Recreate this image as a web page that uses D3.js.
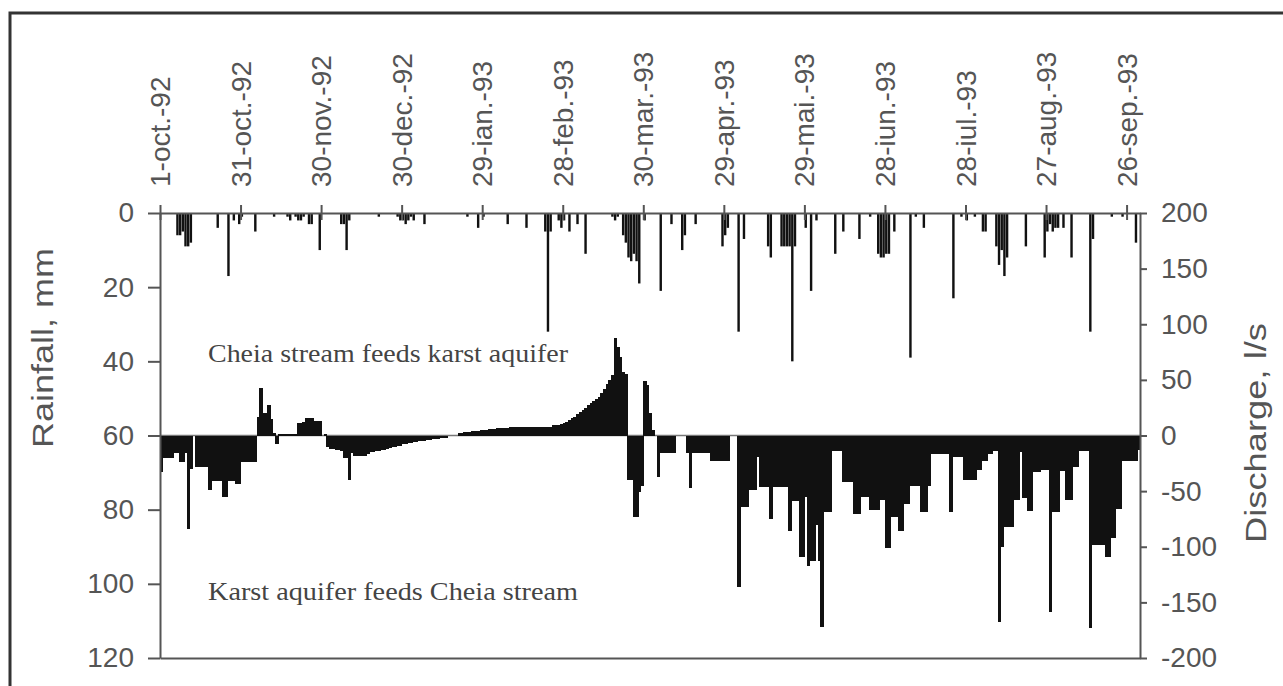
<!DOCTYPE html>
<html lang="en">
<head>
<meta charset="UTF-8">
<title>Rainfall and discharge, Cheia</title>
<script src="https://d3js.org/d3.v7.min.js"></script>
<style>
  body { margin: 0; background: #fff; font-family: "Liberation Sans", Arial, sans-serif; }
  svg { display: block; }
  .axis path, .axis line { stroke: #555; stroke-width: 2; }
  .axis text { fill: #555; font-size: 28px; font-family: "Liberation Sans", Arial, sans-serif; }
  .note { fill: #444; font-family: "Liberation Serif", "Times New Roman", serif; font-size: 25px; }
  .title { fill: #555; font-size: 29px; }
</style>
</head>
<body>
<svg id="chart" width="1283" height="686"></svg>
<script>
// top axis labels, one every 30 days from 1-oct-92
const dateLabels = ["1-oct.-92", "31-oct.-92", "30-nov.-92", "30-dec.-92", "29-ian.-93", "28-feb.-93",
  "30-mar.-93", "29-apr.-93", "29-mai.-93", "28-iun.-93", "28-iul.-93", "27-aug.-93", "26-sep.-93"];
const labelDays = [0, 30, 60, 90, 120, 150, 180, 210, 240, 270, 300, 330, 360];

// daily rainfall, only days with rain (day index from 1-oct-92, mm)
const rainDay = [6, 7, 8, 9, 10, 11, 21, 25, 27, 29, 30, 35, 42, 47, 48, 50, 51, 52, 53, 55, 56, 59,
  67, 68, 69, 70, 81, 88, 89, 90, 91, 92, 93, 94, 98, 114, 118, 120, 129, 136, 143, 144, 145,
  148, 149, 150, 152, 155, 158, 168, 169, 170, 172, 173, 174, 175, 176, 177, 178, 180, 186, 190,
  194, 195, 199, 209, 210, 211, 215, 217, 226, 227, 231, 232, 233, 234, 235, 236, 240, 242, 244,
  251, 254, 260, 264, 267, 268, 269, 270, 271, 273, 279, 281, 284, 295, 298, 300, 303, 306, 307,
  311, 312, 313, 314, 315, 322, 329, 330, 331, 332, 333, 334, 336, 339, 346, 347, 354, 358, 363];
const rainMm = [6, 6, 5, 9, 9, 8, 4, 17, 2, 3, 1, 5, 1, 1, 2, 1, 2, 2, 1, 3, 3, 10,
  3, 3, 10, 2, 1, 1, 2, 2, 3, 2, 1, 2, 3, 1, 4, 1, 3, 4, 5, 32, 5,
  2, 4, 2, 5, 3, 11, 1, 2, 1, 6, 8, 12, 13, 11, 13, 19, 2, 21, 3,
  10, 6, 3, 9, 6, 4, 32, 7, 9, 12, 9, 9, 9, 9, 40, 9, 4, 21, 2,
  11, 5, 7, 1, 11, 12, 12, 11, 11, 5, 39, 1, 4, 23, 1, 2, 1, 5, 5,
  9, 14, 10, 17, 12, 9, 12, 5, 3, 5, 4, 4, 4, 12, 32, 7, 1, 1, 8];

// daily discharge exchange, l/s (positive: stream feeds aquifer), 1-oct-92 .. 30-sep-93
const discharge = [
  -33, -20, -20, -20, -20, -16, -16, -24, -24, -16,
  -84, -30, 0, -28, -28, -28, -28, -28, -49, -41,
  -41, -41, -41, -55, -55, -41, -41, -41, -44, -44,
  -24, -24, -24, -24, -24, -24, 17, 43, 20, 20,
  27, 15, 2, -8, 1, 1, 1, 1, 1, 1,
  1, 11, 11, 12, 16, 16, 16, 13, 13, 13,
  0, 1, -10, -12, -12, -13, -13, -14, -20, -20,
  -40, -16, -18, -18, -18, -18, -18, -17, -15, -15,
  -14, -14, -13, -13, -12, -11, -10, -10, -9, -9,
  -8, -8, -7, -7, -6, -6, -5, -5, -5, -4,
  -4, -3, -3, -3, -2, -2, -2, 0, 0, 0,
  0, 2, 2, 3, 3, 3, 4, 4, 4, 5,
  5, 5, 6, 6, 6, 7, 7, 7, 7, 7,
  8, 8, 8, 8, 8, 8, 8, 8, 8, 8,
  8, 8, 8, 8, 8, 8, 9, 9, 9, 10,
  11, 12, 14, 16, 17, 19, 21, 23, 25, 27,
  29, 31, 33, 35, 38, 42, 46, 50, 54, 88,
  80, 71, 57, 55, -40, -40, -73, -73, -51, -45,
  49, 45, 20, 5, 0, -37, -16, -16, -16, -16,
  -16, -16, 0, 0, 0, 0, -16, -47, -16, -16,
  -16, -16, -16, -16, -16, -23, -23, -23, -23, -23,
  -23, -23, 0, 0, 0, -136, -64, -64, -64, -49,
  -49, -49, -19, -46, -46, -46, -46, -75, -46, -46,
  -46, -46, -46, -46, -86, -59, -59, -59, -109, -109,
  -55, -117, -113, -113, -80, -113, -172, -69, -69, -69,
  -14, -14, -14, -14, -42, -42, -42, -42, -71, -71,
  -71, -55, -55, -55, -67, -67, -67, -67, -58, -58,
  -101, -101, -73, -73, -73, -86, -86, -62, -62, -45,
  -45, -45, -45, -69, -69, -69, -45, -17, -17, -17,
  -17, -17, -17, -17, -69, -19, -19, -19, -19, -40,
  -40, -40, -40, -40, -31, -31, -23, -23, -17, -17,
  -14, -14, -168, -100, -82, -82, -82, -82, -58, -58,
  -15, -56, -56, -68, -68, -33, -33, -33, -31, -31,
  -31, -159, -69, -69, -69, -32, -32, -58, -58, -58,
  -28, -28, -14, -14, -14, -14, -173, -98, -98, -98,
  -98, -98, -109, -109, -92, -92, -66, -66, -23, -23,
  -23, -23, -23, -23, -13
];

const rainTicks = [0, 20, 40, 60, 80, 100, 120];
const flowTicks = [200, 150, 100, 50, 0, -50, -100, -150, -200];

const plotLeft = 160, plotRight = 1140, plotTop = 213, plotBottom = 658;

const svg = d3.select("#chart");

// outer frame
svg.append("rect")
  .attr("x", 10).attr("y", 13)
  .attr("width", 1300).attr("height", 700)
  .attr("fill", "none").attr("stroke", "#333").attr("stroke-width", 3);

const x = d3.scaleLinear().domain([0, 365]).range([plotLeft, plotRight]);
const yRain = d3.scaleLinear().domain([0, 120]).range([plotTop, plotBottom]);
const yFlow = d3.scaleLinear().domain([200, -200]).range([plotTop, plotBottom]);
const dayW = x(1) - x(0);

// zero line of discharge
svg.append("line")
  .attr("x1", plotLeft).attr("x2", plotRight)
  .attr("y1", yFlow(0)).attr("y2", yFlow(0))
  .attr("stroke", "#777").attr("stroke-width", 1.5);

// discharge bars
svg.append("g")
  .attr("shape-rendering", "crispEdges")
  .selectAll("rect")
  .data(discharge)
  .join("rect")
  .attr("x", (d, i) => x(i))
  .attr("width", dayW + 0.6)
  .attr("y", d => yFlow(Math.max(0, d)))
  .attr("height", d => Math.abs(yFlow(d) - yFlow(0)))
  .attr("fill", "#111");

// rainfall bars hanging from the top
svg.append("g")
  .selectAll("rect")
  .data(rainDay)
  .join("rect")
  .attr("x", d => x(d) + dayW * 0.05)
  .attr("width", dayW * 0.9)
  .attr("y", yRain(0))
  .attr("height", (d, i) => yRain(rainMm[i]) - yRain(0))
  .attr("fill", "#111");

// bottom line
svg.append("g")
  .attr("class", "axis")
  .attr("transform", `translate(0,${plotBottom})`)
  .call(d3.axisBottom(x).tickValues([]).tickSizeOuter(0));

// top axis with crossing ticks
svg.append("g")
  .attr("class", "axis")
  .attr("transform", `translate(0,${plotTop})`)
  .call(d3.axisTop(x).tickValues(labelDays).tickSize(8).tickSizeOuter(0).tickFormat(""));
svg.append("g")
  .attr("class", "axis")
  .attr("transform", `translate(0,${plotTop})`)
  .call(d3.axisBottom(x).tickValues(labelDays).tickSize(7).tickSizeOuter(0).tickFormat(""))
  .call(g => g.select(".domain").remove());

svg.append("g")
  .selectAll("text")
  .data(labelDays)
  .join("text")
  .attr("transform", d => `translate(${x(d)},187) rotate(-90)`)
  .attr("dy", "0.36em")
  .attr("text-anchor", "start")
  .attr("fill", "#555")
  .attr("font-size", 28)
  .text((d, i) => dateLabels[i]);

// left axis
svg.append("g")
  .attr("class", "axis")
  .attr("transform", `translate(${plotLeft},0)`)
  .call(d3.axisLeft(yRain).tickValues(rainTicks).tickSize(12).tickPadding(14).tickSizeOuter(0));

// right axis, plain hyphen for negatives
svg.append("g")
  .attr("class", "axis")
  .attr("transform", `translate(${plotRight},0)`)
  .call(d3.axisRight(yFlow).tickValues(flowTicks).tickSize(7).tickPadding(14).tickSizeOuter(0)
    .tickFormat(d => String(d)));

// axis titles
svg.append("text")
  .attr("class", "title")
  .attr("transform", "translate(53,348) rotate(-90)")
  .attr("text-anchor", "middle")
  .attr("textLength", 200).attr("lengthAdjust", "spacingAndGlyphs")
  .text("Rainfall, mm");

svg.append("text")
  .attr("class", "title")
  .attr("transform", "translate(1266,433) rotate(-90)")
  .attr("text-anchor", "middle")
  .attr("textLength", 220).attr("lengthAdjust", "spacingAndGlyphs")
  .text("Discharge, l/s");

// notes
svg.append("text")
  .attr("class", "note")
  .attr("x", 208).attr("y", 362)
  .attr("textLength", 360).attr("lengthAdjust", "spacingAndGlyphs")
  .text("Cheia stream feeds karst aquifer");

svg.append("text")
  .attr("class", "note")
  .attr("x", 208).attr("y", 600)
  .attr("textLength", 370).attr("lengthAdjust", "spacingAndGlyphs")
  .text("Karst aquifer feeds Cheia stream");
</script>
</body>
</html>
